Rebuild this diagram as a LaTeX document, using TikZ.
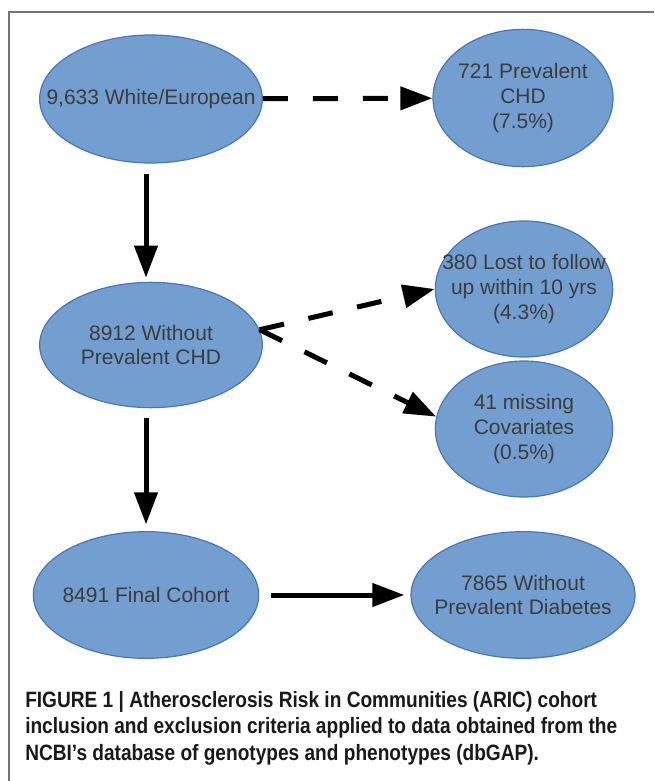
\documentclass[tikz,border=0pt]{standalone}
\usepackage{fontspec}
\setsansfont{Liberation Sans}
\newfontfamily\capfont[FakeStretch=0.86]{Liberation Sans}
\usetikzlibrary{
  arrows.meta,
  shapes.geometric
}
\definecolor{cellfill}{RGB}{114,159,207}
\definecolor{celledge}{RGB}{72,118,188}
\definecolor{celltext}{RGB}{60,60,60}
\definecolor{framegray}{RGB}{115,115,115}

\begin{document}
\begin{tikzpicture}[
  x=0.75pt, y=-0.75pt,
  every node/.style={font=\sffamily},
  stage/.style={ellipse, fill=cellfill, draw=celledge, line width=0.9pt, text=celltext,
    align=center, inner xsep=-30pt, inner ysep=0pt,
    font=\sffamily\fontsize{15.75}{18.5}\selectfont},
  flow/.style={-{Triangle[length=24pt, width=17pt]}, line width=3.75pt},
  drop/.style={flow, dash pattern=on 18.75pt off 18.75pt},
  caption/.style={align=left, inner sep=0pt, text=black!90,
    font=\capfont\bfseries\fontsize{16.65}{19.8}\selectfont}
]
\useasboundingbox (0,0) rectangle (654,781);

% figure frame
\draw[framegray, line width=1.2pt] (9,781) -- (9,12) -- (654,12);

\node[stage, minimum width=167pt, minimum height=96pt]  (white)   at (151,99)  {9,633 White/European};
\node[stage, minimum width=135pt, minimum height=103pt] (prevchd) at (523,98)  {721 Prevalent\\CHD\\(7.5\%)};
\node[stage, minimum width=167pt, minimum height=94pt]  (nochd)   at (151,345) {8912 Without\\Prevalent CHD};
\node[stage, minimum width=133pt, minimum height=102pt] (lost)    at (524,289) {380 Lost to follow\\up within 10 yrs\\(4.3\%)};
\node[stage, minimum width=133pt, minimum height=102pt] (missing) at (524,429) {41 missing\\Covariates\\(0.5\%)};
\node[stage, minimum width=169pt, minimum height=95pt]  (final)   at (146,595) {8491 Final Cohort};
\node[stage, minimum width=168pt, minimum height=95pt]  (nodiab)  at (523,595) {7865 Without\\Prevalent Diabetes};

% exclusions
\draw[drop] (white) -- (prevchd);
\draw[drop] (nochd.8) -- (lost.west);
\draw[drop] (nochd.8) -- (missing.172);

% kept
\draw[flow, shorten <=7.5pt, shorten >=3pt] (white.south -| final) -- (nochd.north -| final);
\draw[flow, shorten <=7.5pt, shorten >=5pt] (nochd.south -| final) -- (final);
\draw[flow, shorten <=9pt, shorten >=4.5pt] (final) -- (nodiab);

\node[caption, anchor=north west] (cap) at (25,691)
  {FIGURE 1 | Atherosclerosis Risk in Communities (ARIC) cohort\\
   inclusion and exclusion criteria applied to data obtained from the\\
   NCBI’s database of genotypes and phenotypes (dbGAP).};

\end{tikzpicture}
\end{document}
